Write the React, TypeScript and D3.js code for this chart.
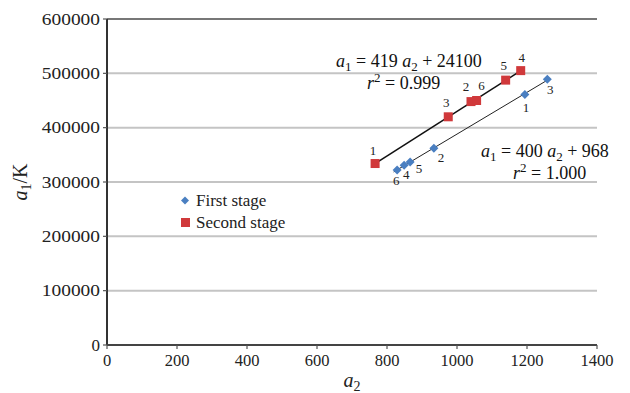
import { useMemo } from "react";
import * as d3 from "d3";

const W = 630;
const H = 393;
const MARGIN = { top: 19, right: 33, bottom: 48, left: 107 };

// First stage (blue diamonds), points labelled 1..6
const firstX = [1194, 934, 1258, 849, 866, 829];
const firstY = [461000, 362000, 489000, 331000, 337000, 322000];

// Second stage (red squares), points labelled 1..6
const secondX = [766, 1040, 975, 1182, 1139, 1056];
const secondY = [334000, 448000, 420000, 505000, 487500, 450000];

const pointLabels = ["1", "2", "3", "4", "5", "6"];

const xTicks = [0, 200, 400, 600, 800, 1000, 1200, 1400];
const yTicks = [0, 100000, 200000, 300000, 400000, 500000, 600000];

// label offsets in px (layout only)
const firstLabelOffsets = [
  [1, 17],
  [7, 14],
  [3, 15],
  [2, 14],
  [9, 11],
  [-1, 15],
];
const secondLabelOffsets = [
  [-2, -9],
  [-5, -11],
  [-2, -10],
  [1, -9],
  [-2, -10],
  [5, -11],
];

const BLUE = "#4a7fc1";
const RED = "#d0393b";
const SERIF = '"Liberation Serif", "Times New Roman", serif';

const fit = (xs: number[], ys: number[]) => {
  const mx = d3.mean(xs) as number;
  const my = d3.mean(ys) as number;
  let num = 0;
  let den = 0;
  xs.forEach((x, i) => {
    num += (x - mx) * (ys[i] - my);
    den += (x - mx) * (x - mx);
  });
  const slope = num / den;
  return { slope, intercept: my - slope * mx };
};

const Chart = () => {
  const boundsWidth = W - MARGIN.left - MARGIN.right;
  const boundsHeight = H - MARGIN.top - MARGIN.bottom;

  const xScale = useMemo(
    () => d3.scaleLinear().domain([0, 1400]).range([0, boundsWidth]),
    [boundsWidth]
  );
  const yScale = useMemo(
    () => d3.scaleLinear().domain([0, 600000]).range([boundsHeight, 0]),
    [boundsHeight]
  );

  const trend = (xs: number[], ys: number[], pad0: number, pad1: number) => {
    const { slope, intercept } = fit(xs, ys);
    const x0 = (d3.min(xs) as number) - pad0;
    const x1 = (d3.max(xs) as number) + pad1;
    const line = d3
      .line<number>()
      .x((d) => xScale(d))
      .y((d) => yScale(slope * d + intercept));
    return line([x0, x1]) ?? "";
  };

  return (
    <svg
      width={W}
      height={H}
      style={{
        position: "absolute",
        left: 0,
        top: 0,
        background: "#fff",
        fontFamily: SERIF,
      }}
    >
      <g transform={`translate(${MARGIN.left},${MARGIN.top})`}>
        {/* gridlines */}
        {yTicks.slice(1).map((t) => (
          <line
            key={t}
            x1={0}
            x2={boundsWidth}
            y1={yScale(t)}
            y2={yScale(t)}
            stroke={t === 600000 ? "#777" : "#c4c4c4"}
            strokeWidth={2}
          />
        ))}

        {/* axes */}
        <line x1={0} x2={0} y1={0} y2={boundsHeight} stroke="#333" strokeWidth={2} />
        <line
          x1={0}
          x2={boundsWidth}
          y1={boundsHeight}
          y2={boundsHeight}
          stroke="#444"
          strokeWidth={2}
        />
        {yTicks.map((t) => {
          const s = String(t);
          return (
            <g key={t}>
              <line x1={-4} x2={0} y1={yScale(t)} y2={yScale(t)} stroke="#555" strokeWidth={1.2} />
              <text
                x={-7}
                y={yScale(t)}
                textAnchor="end"
                dominantBaseline="central"
                fontSize={17}
                fontFamily={SERIF}
                fill="#222"
                textLength={s.length > 1 ? s.length * 9.7 : undefined}
                lengthAdjust="spacingAndGlyphs"
              >
                {s}
              </text>
            </g>
          );
        })}
        {xTicks.map((t) => (
          <g key={t}>
            <line
              x1={xScale(t)}
              x2={xScale(t)}
              y1={boundsHeight}
              y2={boundsHeight + 4}
              stroke="#555"
              strokeWidth={1.2}
            />
            <text
              x={xScale(t)}
              y={boundsHeight + 21}
              textAnchor="middle"
              fontSize={16.5}
              fontFamily={SERIF}
              fill="#222"
            >
              {t}
            </text>
          </g>
        ))}

        {/* trend lines */}
        <path d={trend(secondX, secondY, 8, 3)} stroke="#111" strokeWidth={1.6} fill="none" />
        <path d={trend(firstX, firstY, 10, 6)} stroke="#222" strokeWidth={1} fill="none" />

        {/* points */}
        {firstX.map((x, i) => (
          <g key={"f" + i} transform={`translate(${xScale(x)},${yScale(firstY[i])})`}>
            <path d="M0,-4.5L4.5,0L0,4.5L-4.5,0Z" fill={BLUE} />
            <text
              x={firstLabelOffsets[i][0]}
              y={firstLabelOffsets[i][1]}
              textAnchor="middle"
              fontSize={13}
              fill="#222"
            >
              {pointLabels[i]}
            </text>
          </g>
        ))}
        {secondX.map((x, i) => (
          <g key={"s" + i} transform={`translate(${xScale(x)},${yScale(secondY[i])})`}>
            <rect x={-4.5} y={-4.5} width={9} height={9} fill={RED} />
            <text
              x={secondLabelOffsets[i][0]}
              y={secondLabelOffsets[i][1]}
              textAnchor="middle"
              fontSize={13}
              fill="#222"
            >
              {pointLabels[i]}
            </text>
          </g>
        ))}
      </g>

      {/* equations */}
      <text x={336} y={67} fontSize={18} fill="#111">
        <tspan fontStyle="italic">a</tspan>
        <tspan fontSize={13} dy={4}>1</tspan>
        <tspan dy={-4}> = 419 </tspan>
        <tspan fontStyle="italic">a</tspan>
        <tspan fontSize={13} dy={4}>2</tspan>
        <tspan dy={-4}> + 24100</tspan>
      </text>
      <text x={367} y={89} fontSize={18} fill="#111">
        <tspan fontStyle="italic">r</tspan>
        <tspan fontSize={13} dy={-7}>2</tspan>
        <tspan dy={7}> = 0.999</tspan>
      </text>
      <text x={481} y={157} fontSize={18} fill="#111">
        <tspan fontStyle="italic">a</tspan>
        <tspan fontSize={13} dy={4}>1</tspan>
        <tspan dy={-4}> = 400 </tspan>
        <tspan fontStyle="italic">a</tspan>
        <tspan fontSize={13} dy={4}>2</tspan>
        <tspan dy={-4}> + 968</tspan>
      </text>
      <text x={513} y={179} fontSize={18} fill="#111">
        <tspan fontStyle="italic">r</tspan>
        <tspan fontSize={13} dy={-7}>2</tspan>
        <tspan dy={7}> = 1.000</tspan>
      </text>

      {/* legend */}
      <path d="M185,196.5L189,200.5L185,204.5L181,200.5Z" fill={BLUE} />
      <text x={196} y={206} fontSize={17} fill="#222">
        First stage
      </text>
      <rect x={181} y={218} width={9} height={9} fill={RED} />
      <text x={196} y={228} fontSize={17} fill="#222">
        Second stage
      </text>

      {/* axis titles */}
      <text
        transform="translate(27,182) rotate(-90)"
        textAnchor="middle"
        fontSize={20}
        fill="#222"
      >
        <tspan fontStyle="italic">a</tspan>
        <tspan fontSize={14} dy={4}>1</tspan>
        <tspan dy={-4}>/K</tspan>
      </text>
      <text x={352} y={387} textAnchor="middle" fontSize={20} fill="#222">
        <tspan fontStyle="italic">a</tspan>
        <tspan fontSize={14} dy={4}>2</tspan>
      </text>
    </svg>
  );
};

export default function App() {
  return <Chart />;
}
